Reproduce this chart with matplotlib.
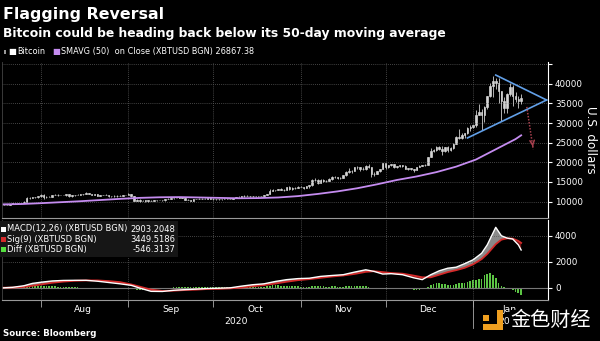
import numpy as np
import pandas as pd
import matplotlib
matplotlib.use('Agg')
import matplotlib.pyplot as plt
import matplotlib.transforms as mtrans
from matplotlib.patches import Rectangle

# daily Bitcoin candles, 2020-07-18 .. 2021-01-18
days = pd.date_range('2020-07-18', '2021-01-18', freq='D')
first_open = 9130
closes = [
    9150, 9180, 9160, 9390, 9530, 9610, 9550, 9710, 9930, 11030, 10910, 11100, 11110, 11320,
    11800, 11070, 11230, 11190, 11740, 11760, 11600, 11750, 11680, 11880, 11410, 11580, 11780, 11770, 11860, 11910,
    12250, 11990, 11760, 11860, 11530, 11660, 11650, 11750, 11320, 11460, 11320, 11540, 11480, 11710, 11680,
    11970, 11410, 10240, 10510, 10170, 10280, 10370, 10130, 10240, 10360, 10400, 10440, 10330, 10680, 10790,
    10950, 10940, 10930, 11080, 10920, 10420, 10530, 10240, 10740, 10690, 10730, 10770, 10710, 10840, 10780,
    10620, 10570, 10550, 10670, 10790, 10600, 10670, 10920, 11060, 11300, 11380, 11550, 11430, 11430, 11500, 11320,
    11360, 11480, 11740, 11920, 12820, 12970, 12930, 13120, 13030, 13070, 13650, 13270, 13460, 13560, 13800,
    13760, 13550, 14030, 14130, 15590, 15580, 14840, 15480, 15330, 15300, 15700, 16290, 16330, 16070, 15960,
    16720, 17660, 17800, 17820, 18680, 18710, 18420, 18370, 19160, 18740, 17150, 17140, 17720, 18180, 19700,
    18800, 19220, 19450, 18700, 19150, 19360, 19170, 18320, 18550, 18260, 18040, 18800, 19170, 19270, 19440, 21310,
    22810, 23140, 23870, 23480, 22750, 23830, 23240, 23730, 24710, 26440, 26270, 27040, 27360, 28840, 29000,
    29370, 32130, 32780, 31970, 33990, 36820, 39370, 40800, 40250, 38240, 35540, 33920, 37320, 39190, 36830, 36070,
    35550, 36260]
highs = [
    9200, 9230, 9220, 9420, 9570, 9680, 9650, 9730, 10060, 11280, 11190, 11180, 11160, 11430,
    12030, 12000, 11460, 11400, 11780, 11900, 11900, 11800, 11800, 12040, 11940, 11600, 11780, 11860, 11920, 11940,
    12410, 12300, 12000, 11900, 11880, 11690, 11700, 11810, 11770, 11520, 11560, 11590, 11570, 11720, 11780,
    12080, 11980, 11450, 10630, 10560, 10340, 10400, 10440, 10350, 10530, 10410, 10460, 10450, 10750, 10920,
    11040, 11030, 11020, 11160, 11080, 10960, 10560, 10520, 10760, 10760, 10800, 10800, 10940, 10860, 10840,
    10940, 10660, 10600, 10690, 10800, 10800, 10680, 10940, 11100, 11480, 11440, 11720, 11560, 11530, 11540, 11540,
    11400, 11490, 11800, 11980, 13210, 13180, 13020, 13160, 13340, 13240, 13790, 13850, 13610, 13620, 14030,
    13900, 13820, 14070, 14240, 15740, 15960, 15740, 15650, 15830, 15460, 15940, 16480, 16480, 16330, 16140,
    16850, 17840, 18480, 18110, 18770, 18940, 18700, 18750, 19350, 19450, 18890, 17430, 17850, 18310, 19850,
    19900, 19300, 19550, 19500, 19180, 19410, 19390, 19290, 18630, 18560, 18270, 18930, 19410, 19330, 19540, 21460,
    23700, 23290, 24120, 24250, 24070, 23990, 24060, 23780, 24790, 26720, 28350, 27390, 27400, 28990, 29580,
    29600, 33250, 34790, 33600, 34440, 36880, 40180, 41950, 41380, 41350, 38260, 36570, 37600, 40100, 39700, 37900,
    36850, 37300]
lows = [
    9090, 9100, 9130, 9140, 9290, 9460, 9500, 9540, 9650, 9900, 10650, 10850, 10900, 11000,
    11240, 10700, 11000, 11050, 11100, 11560, 11450, 11570, 11570, 11480, 11190, 11150, 11480, 11670, 11660, 11710,
    11850, 11850, 11660, 11600, 11500, 11400, 11570, 11600, 11120, 11260, 11160, 11300, 11460, 11460, 11590,
    11660, 11240, 10150, 10060, 9990, 10100, 9920, 9930, 10060, 10220, 10260, 10330, 10240, 10280, 10620,
    10670, 10780, 10840, 10890, 10810, 10400, 10380, 10160, 10220, 10600, 10650, 10670, 10690, 10630, 10660,
    10440, 10370, 10500, 10530, 10650, 10540, 10590, 10580, 10830, 11100, 11270, 11300, 11330, 11280, 11270, 11240,
    11300, 11340, 11420, 11700, 11890, 12700, 12790, 12900, 12900, 12780, 13040, 13000, 13070, 13110, 13450,
    13620, 13320, 13530, 13560, 14090, 15200, 14380, 14740, 14900, 15080, 15280, 15460, 15970, 15810, 15760,
    15890, 16560, 17240, 17350, 17770, 18380, 17680, 18030, 18110, 18650, 16330, 16520, 16900, 17530, 18180,
    18320, 18530, 18960, 18640, 18530, 18920, 18920, 18240, 17950, 17930, 17610, 18030, 18760, 19010, 19060, 19380,
    21300, 22500, 22780, 23100, 21900, 22650, 22720, 22760, 23500, 24580, 25990, 25980, 26130, 27320, 28000,
    28800, 29030, 32050, 28200, 30220, 33510, 36490, 36600, 38760, 35000, 30550, 32530, 32500, 36800, 34400, 35400,
    33900, 34900]
opens = [first_open] + closes[:-1]

# 50-day simple moving average
sma_dates = pd.to_datetime([
    '2020-07-18', '2020-07-25', '2020-08-01', '2020-08-08', '2020-08-15', '2020-08-22', '2020-08-29',
    '2020-09-05', '2020-09-12', '2020-09-19', '2020-09-26', '2020-10-03', '2020-10-10', '2020-10-17',
    '2020-10-24', '2020-10-31', '2020-11-07', '2020-11-14', '2020-11-21', '2020-11-28', '2020-12-05',
    '2020-12-12', '2020-12-19', '2020-12-26', '2021-01-02', '2021-01-09', '2021-01-16', '2021-01-18'])
sma_vals = [9300, 9380, 9600, 9850, 10100, 10400, 10700, 10950, 11100, 11150, 11050, 10950, 10850, 10900,
            11050, 11400, 11950, 12600, 13400, 14400, 15500, 16400, 17500, 18900, 20700, 23300, 25900, 26867.38]

# MACD panel
macd_dates = pd.to_datetime([
    '2020-07-18', '2020-07-22', '2020-07-26', '2020-07-29', '2020-08-01', '2020-08-05', '2020-08-09',
    '2020-08-13', '2020-08-17', '2020-08-21', '2020-08-25', '2020-08-29', '2020-09-02', '2020-09-05',
    '2020-09-09', '2020-09-13', '2020-09-17', '2020-09-21', '2020-09-25', '2020-09-29', '2020-10-03',
    '2020-10-07', '2020-10-11', '2020-10-15', '2020-10-19', '2020-10-23', '2020-10-27', '2020-10-31',
    '2020-11-04', '2020-11-08', '2020-11-12', '2020-11-16', '2020-11-20', '2020-11-24', '2020-11-27',
    '2020-11-30', '2020-12-03', '2020-12-07', '2020-12-11', '2020-12-14', '2020-12-17', '2020-12-20',
    '2020-12-23', '2020-12-26', '2020-12-29', '2021-01-01', '2021-01-04', '2021-01-06', '2021-01-08',
    '2021-01-09', '2021-01-11', '2021-01-13', '2021-01-15', '2021-01-17', '2021-01-18'])
macd = [-20, 30, 150, 330, 420, 520, 560, 570, 570, 500, 400, 300, 180, -30,
        -280, -290, -200, -150, -110, -60, -40, -10, 120, 230, 300, 480, 620, 700,
        730, 870, 940, 1000, 1200, 1380, 1250, 1050, 1080, 1000, 760, 620, 1000, 1300,
        1500, 1580, 1850, 2150, 2650, 3300, 4200, 4650, 4000, 3820, 3750, 3300, 2903.2]
signal = [0, 10, 60, 150, 250, 380, 470, 530, 560, 560, 510, 430, 250, 80,
          -150, -250, -230, -180, -150, -100, -90, -50, 10, 110, 200, 320, 460, 580,
          660, 760, 860, 940, 1060, 1220, 1270, 1200, 1130, 1080, 930, 800, 800, 1000,
          1200, 1350, 1530, 1800, 2200, 2600, 3100, 3350, 3700, 3800, 3780, 3600, 3449.5]
diff = [
    0, 5, 10, 15, 20, 30, 50, 70, 100, 140, 170, 180, 170, 160,
    150, 140, 130, 120, 110, 100, 90, 80, 70, 60, 50, 40, 30, 20, 10, 10,
    10, 0, -10, -20, -30, -40, -50, -60, -70, -80, -90, -100, -110, -120, -130,
    -60, -80, -120, -150, -160, -160, -150, -130, -110, -90, -70, -50, -30, -10, 0,
    10, 20, 30, 40, 40, 40, 40, 40, 40, 40, 40, 40, 40, 40, 40,
    40, 40, 40, 40, 40, 40, 50, 60, 70, 80, 90, 100, 100, 100, 100, 90,
    80, 80, 80, 100, 150, 180, 180, 170, 160, 150, 160, 140, 120, 110, 100,
    90, 80, 80, 80, 110, 130, 110, 110, 100, 90, 90, 100, 100, 90, 80,
    90, 120, 140, 140, 160, 160, 140, 120, 120, 90, 0, -60, -100, -100, -60,
    -40, -30, -30, -40, -50, -60, -70, -90, -110, -130, -150, -150, -140, -120, -100, 60,
    200, 280, 350, 330, 280, 250, 230, 220, 240, 300, 340, 370, 400, 440, 480,
    560, 620, 680, 700, 950, 1050, 1130, 1000, 750, 350, 150, 30, -20, -100, -200, -300,
    -420, -546.3]

# flag / triangle annotation
upper_x = pd.to_datetime(['2021-01-09', '2021-01-27'])
upper_y = [42200, 35850]
lower_x = pd.to_datetime(['2020-12-30', '2021-01-27'])
lower_y = [26200, 35850]
arrow_x = pd.to_datetime(['2021-01-20 00:00', '2021-01-22 06:00'])
arrow_y = [34100, 23300]

months = pd.to_datetime(['2020-08-01', '2020-09-01', '2020-10-01', '2020-11-01', '2020-12-01', '2021-01-01'])
month_mid = pd.to_datetime(['2020-08-16', '2020-09-16', '2020-10-16', '2020-11-16', '2020-12-16', '2021-01-14'])
month_names = ['Aug', 'Sep', 'Oct', 'Nov', 'Dec', 'Jan']

grid_kw = dict(color='#5a5a5a', linestyle=(0, (1, 1.5)), linewidth=0.6)
W, H = 600, 341

fig = plt.figure(figsize=(6, 3.41), dpi=100, facecolor='black')
ax1 = fig.add_axes([2 / W, 1 - 218 / H, 546 / W, 156 / H], facecolor='black')
ax2 = fig.add_axes([2 / W, 1 - 300 / H, 546 / W, 80 / H], facecolor='black')
xlim = (pd.Timestamp('2020-07-18 06:00'), pd.Timestamp('2021-01-27 12:00'))

# --- price panel
o = np.array(opens, float)
c = np.array(closes, float)
ax1.vlines(days, lows, highs, color='#d0d0d0', lw=0.6)
ax1.bar(days, np.abs(c - o), bottom=np.minimum(o, c), width=0.55,
        color='#e8e8e8', edgecolor='#e8e8e8', lw=0.4)
ax1.plot(sma_dates, sma_vals, color='#c58cf0', lw=1.3)
ax1.plot(upper_x, upper_y, color='#62a0e8', lw=1.2, clip_on=False)
ax1.plot(lower_x, lower_y, color='#62a0e8', lw=1.2, clip_on=False)
ax1.plot(arrow_x, arrow_y, color='#a8404e', lw=1.1, linestyle=(0, (1, 1)))
ax1.annotate('', xy=(arrow_x[1], arrow_y[1]),
             xytext=(arrow_x[1] - pd.Timedelta(hours=6), arrow_y[1] + 1500),
             arrowprops=dict(arrowstyle='->', color='#a8404e', lw=1.1, mutation_scale=8))

ax1.set_xlim(*xlim)
ax1.set_ylim(5830, 45520)
ax1.set_yticks(range(10000, 45001, 5000))
ax1.set_yticklabels([str(v) for v in range(10000, 40001, 5000)] + [''])
ax1.set_xticks(months)
ax1.set_xticklabels([])
ax1.tick_params(axis='x', length=0)
ax1.grid(True, **grid_kw)
ax1.set_ylabel('U.S. dollars', color='white', fontsize=8.6, rotation=-90, labelpad=10)
ax1.yaxis.set_label_position('right')

# --- MACD panel
ax2.fill_between(macd_dates, macd, signal, where=np.array(macd) >= np.array(signal),
                 interpolate=True, color='#8a8a8a', lw=0)
ax2.fill_between(macd_dates, macd, signal, where=np.array(macd) < np.array(signal),
                 interpolate=True, color='#7a1515', lw=0)
ax2.bar(days, diff, width=0.6, color='#5cc544', lw=0)
ax2.axhline(0, color='#777777', lw=0.8)
ax2.plot(macd_dates, signal, color='#d42a2a', lw=1.3)
ax2.plot(macd_dates, macd, color='white', lw=1.0)

ax2.set_xlim(*xlim)
ax2.set_ylim(-947, 5213)
ax2.set_yticks([0, 2000, 4000])
ax2.set_xticks(months)
ax2.set_xticklabels([])
ax2.set_xticks(month_mid, minor=True)
ax2.set_xticklabels(month_names, minor=True)
ax2.tick_params(axis='x', which='major', length=5, width=0.6, color='#aaaaaa', direction='out')
ax2.tick_params(axis='x', which='minor', length=0, pad=3.5, labelsize=6.6, labelcolor='white')
ax2.grid(True, which='major', **grid_kw)

trans = mtrans.blended_transform_factory(ax2.transData, ax2.transAxes)
ax2.plot([months[-1], months[-1]], [0, -0.35], color='#aaaaaa', lw=0.6, transform=trans, clip_on=False)
ax2.text(pd.Timestamp('2020-10-09'), -0.265, '2020', transform=trans, color='white',
         fontsize=6.6, ha='center', va='center')
ax2.text(pd.Timestamp('2021-01-14'), -0.265, '2021', transform=trans, color='white',
         fontsize=6.6, ha='center', va='center')

for ax in (ax1, ax2):
    ax.yaxis.tick_right()
    ax.tick_params(axis='y', length=3, width=0.8, color='white', labelcolor='white',
                   labelsize=6.3, pad=2)
    ax.spines['top'].set_visible(False)
    ax.spines['right'].set_color('white')
    ax.spines['right'].set_linewidth(0.8)
    ax.spines['left'].set_color('#444444')
    ax.spines['left'].set_linewidth(0.6)
    ax.spines['bottom'].set_color('#999999')
    ax.spines['bottom'].set_linewidth(0.8)

# --- texts
fig.text(3 / W, 1 - 19 / H, 'Flagging Reversal', color='white', fontsize=11.4,
         fontweight='bold', va='baseline')
fig.text(3 / W, 1 - 36.7 / H, 'Bitcoin could be heading back below its 50-day moving average',
         color='white', fontsize=8.9, fontweight='bold', va='baseline')

ly = 1 - 51.7 / H
fig.add_artist(Rectangle((4 / W, 1 - 54 / H), 2 / W, 4 / H, facecolor='#999999', lw=0,
                         transform=fig.transFigure))
fig.text(8 / W, ly, '■', color='white', fontsize=6.0, va='center')
fig.text(17 / W, ly, 'Bitcoin', color='white', fontsize=5.9, va='center')
fig.text(52 / W, ly, '■', color='#c58cf0', fontsize=6.0, va='center')
fig.text(61 / W, ly, 'SMAVG (50)  on Close (XBTUSD BGN) 26867.38', color='white',
         fontsize=5.9, va='center')

# MACD legend box
fig.add_artist(Rectangle((0, 1 - 257 / H), 178 / W, 36 / H, facecolor='#161616', lw=0,
                         transform=fig.transFigure))
rows = [('MACD(12,26) (XBTUSD BGN)', '2903.2048', 'white', 229),
        ('Sig(9) (XBTUSD BGN)', '3449.5186', '#d42a2a', 239.5),
        ('Diff (XBTUSD BGN)', '-546.3137', '#55e040', 249.5)]
for label, val, col, yy in rows:
    fig.add_artist(Rectangle((1 / W, 1 - (yy + 2.5) / H), 5 / W, 5 / H, facecolor=col, lw=0,
                             transform=fig.transFigure))
    fig.text(7 / W, 1 - yy / H, label, color='white', fontsize=6.0, va='center')
    fig.text(175 / W, 1 - yy / H, val, color='white', fontsize=6.0, va='center', ha='right')

fig.text(3 / W, 1 - 333 / H, 'Source: Bloomberg', color='white', fontsize=6.2,
         fontweight='bold', va='center')

# watermark
fig.add_artist(Rectangle((510 / W, 1 - 334 / H), 81 / W, 24 / H, facecolor='black', lw=0,
                         transform=fig.transFigure))
for (x0, y0, w, h) in [(497, 310, 6, 20), (483, 324, 20, 6), (483, 315, 6, 6)]:
    fig.add_artist(Rectangle((x0 / W, 1 - (y0 + h) / H), w / W, h / H, facecolor='#f0a020',
                             lw=0, transform=fig.transFigure))
fig.text(510 / W, 1 - 320 / H, '金色财经', color='white', fontsize=14.5, va='center',
         family=['Noto Sans CJK SC', 'DejaVu Sans'])

fig.savefig('out.png', dpi=100, facecolor='black')
